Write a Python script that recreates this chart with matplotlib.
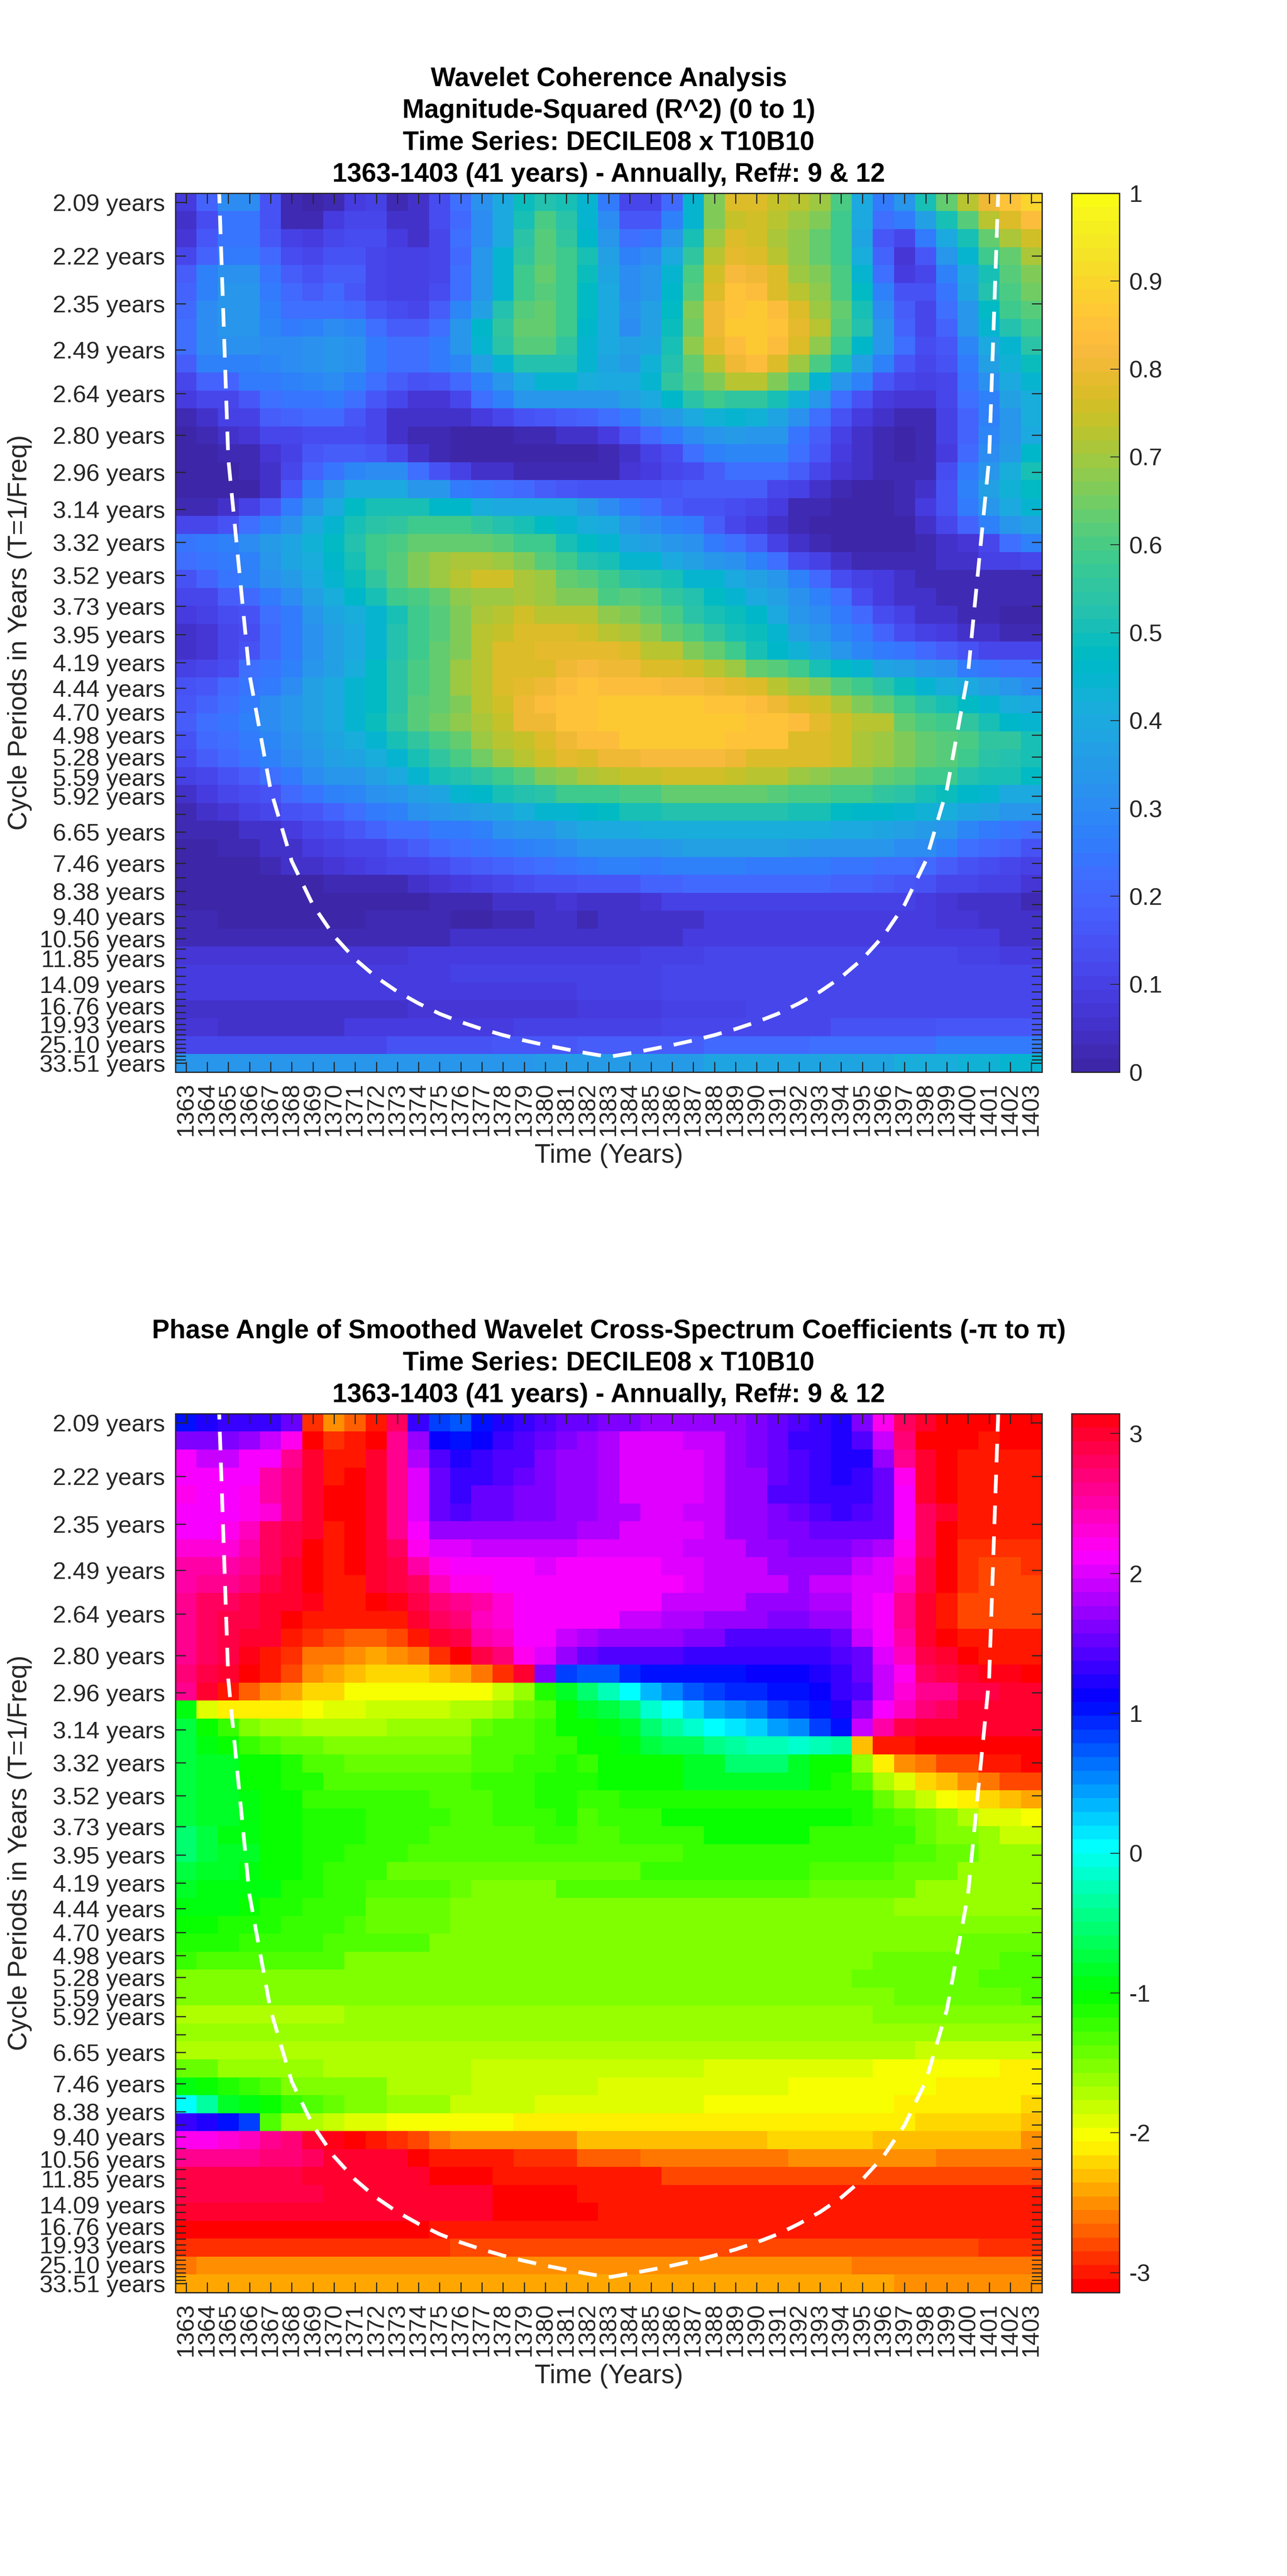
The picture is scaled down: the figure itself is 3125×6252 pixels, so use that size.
import numpy as np
import colorsys
import matplotlib
matplotlib.use("Agg")
import matplotlib.pyplot as plt
from matplotlib.colors import ListedColormap

plt.rcParams['font.family'] = ['Liberation Sans', 'DejaVu Sans']

# x axis
years = list(range(1363, 1404))

# every scale on the y axis, top to bottom
periods = [2.09, 2.22, 2.35, 2.49, 2.64, 2.80, 2.96, 3.14, 3.32, 3.52, 3.73, 3.95, 4.19, 4.44, 4.70, 4.98,
           5.28, 5.59, 5.92, 6.27, 6.65, 7.05, 7.46, 7.91, 8.38, 8.88, 9.40, 9.96, 10.56, 11.19, 11.85,
           12.56, 13.30, 14.09, 14.93, 15.82, 16.76, 17.76, 18.81, 19.93, 21.12, 22.38, 23.71, 25.10,
           26.60, 28.18, 29.85, 31.63, 33.51]
labelled = [2.09, 2.22, 2.35, 2.49, 2.64, 2.80, 2.96, 3.14, 3.32, 3.52, 3.73, 3.95, 4.19, 4.44, 4.70, 4.98,
            5.28, 5.59, 5.92, 6.65, 7.46, 8.38, 9.40, 10.56, 11.85, 14.09, 16.76, 19.93, 25.10, 33.51]

# cone of influence, period in years per year
coi_years = list(range(1364, 1403))
coi_periods = [1.5, 2.9, 4.3, 5.8, 7.4, 8.9, 10.4, 11.9, 13.4, 14.9, 16.4, 18.0, 19.5, 21.0, 22.5, 24.0, 25.5, 27.0, 28.6,
               30.2,
               28.6, 27.0, 25.5, 24.0, 22.5, 21.0, 19.5, 18.0, 16.4, 14.9, 13.4, 11.9, 10.4, 8.9, 7.4, 5.8, 4.3, 2.9, 1.5]

# coherence in percent, one row per scale (top row first), one value per year
coherence = [
    [8,19,30,31,15,3,1,3,8,10, 3,5,14,22,32,40,49,53,51,44, 26,12,11,21,45,66,78,78,74,72, 70,60,40,25,34,51,64,72,81,85, 90],
    [5,14,24,24,15,3,3,8,11,11, 6,6,14,21,31,40,51,60,54,44, 31,16,16,28,45,67,74,75,72,70, 66,59,40,23,25,36,51,62,73,78, 83],
    [7,16,24,24,16,10,8,12,14,14, 8,6,12,22,31,40,54,61,56,46, 34,23,24,34,51,69,77,75,71,68, 64,58,39,16,12,26,40,51,64,71, 75],
    [11,19,26,26,21,14,11,15,15,12, 10,10,12,21,33,45,55,62,58,50, 36,27,30,40,56,72,79,77,72,68, 64,58,41,19,7,16,33,45,59,64, 71],
    [18,27,32,32,24,18,15,18,18,11, 10,10,12,22,34,45,59,64,59,49, 38,30,33,44,60,75,82,80,77,70, 66,60,44,22,8,12,27,40,51,62, 67],
    [19,28,33,33,26,21,18,21,16,11, 10,10,14,22,34,45,59,62,59,48, 40,31,34,46,62,78,85,83,78,73, 68,60,48,28,15,15,24,38,52,60, 65],
    [21,30,34,33,27,23,23,23,21,16, 14,12,18,29,37,53,62,64,59,47, 40,32,36,47,66,80,85,87,83,77, 70,63,51,31,18,11,22,34,47,58, 62],
    [23,31,34,33,29,26,28,30,29,22, 18,18,23,34,46,55,64,64,59,46, 40,31,37,49,65,80,87,87,85,79, 72,62,52,34,19,11,19,34,44,53, 59],
    [22,30,32,32,30,30,32,33,32,26, 22,22,26,34,44,54,62,62,55,45, 40,36,39,51,68,79,84,87,84,77, 68,59,46,34,22,14,16,29,40,45, 54],
    [18,27,27,28,29,31,32,34,32,26, 22,22,25,29,37,45,52,53,52,45, 38,35,43,53,64,73,80,83,78,70, 60,51,37,28,16,12,15,26,37,43, 49],
    [12,19,19,25,25,28,29,31,28,22, 18,15,16,21,28,34,40,44,44,41, 40,40,44,55,61,67,73,73,66,60, 45,34,27,16,11,10,12,24,32,40, 45],
    [8,12,12,16,22,24,24,25,22,16, 11,7,7,11,22,28,33,34,34,34, 34,36,40,46,54,58,56,56,51,43, 34,23,15,8,7,7,11,23,28,36, 41],
    [3,6,10,10,18,19,21,21,16,12, 6,5,5,5,8,12,15,16,18,19, 22,26,32,35,40,43,45,43,39,32, 22,15,8,5,2,3,10,19,27,34, 41],
    [1,3,5,7,11,12,14,14,14,11, 5,3,2,1,1,1,3,3,5,6, 8,15,21,26,31,34,35,34,34,24, 18,10,6,2,1,2,10,19,29,33, 40],
    [0,1,2,3,7,10,16,18,18,16, 12,6,3,1,1,0,0,0,0,1, 2,6,10,14,22,27,29,29,29,23, 16,8,5,2,1,3,8,21,30,35, 46],
    [0,0,0,2,6,11,19,24,29,30, 30,22,15,10,6,5,2,2,2,2, 3,7,8,12,14,18,22,23,23,18, 11,7,5,3,2,3,14,26,34,41, 51],
    [0,0,0,1,6,16,27,34,40,40, 40,34,34,26,24,23,21,18,16,15, 15,15,15,16,18,18,18,18,12,10, 6,2,1,1,2,6,15,27,37,43, 48],
    [3,3,5,10,16,25,34,40,47,50, 50,50,46,46,41,40,40,40,40,35, 30,26,22,18,15,15,14,11,8,3, 2,1,0,1,3,8,15,26,34,40, 44],
    [12,12,15,23,27,32,40,45,51,54, 56,59,59,59,56,53,51,48,44,41, 40,34,31,27,25,18,12,8,5,3, 0,0,0,1,1,5,12,19,27,34, 37],
    [24,26,27,30,35,38,43,47,53,58, 60,63,63,64,63,62,59,58,51,48, 44,38,36,34,32,26,23,18,10,5, 2,0,0,0,0,2,5,7,12,22, 27],
    [22,24,25,27,34,38,41,46,51,59, 62,66,69,71,71,69,66,62,59,53, 50,45,44,40,37,34,32,27,23,14, 10,5,3,3,2,3,5,6,10,10, 12],
    [15,19,24,27,32,35,40,44,49,55, 62,66,69,73,75,75,71,69,64,62, 58,54,53,50,45,44,40,36,34,27, 21,14,10,8,6,3,3,3,3,3, 3],
    [11,12,18,21,26,31,37,41,46,51, 58,60,64,68,70,70,71,69,67,67, 60,62,60,55,53,48,45,40,37,32, 27,22,14,8,6,6,3,2,2,2, 2],
    [8,10,14,15,22,26,33,39,41,45, 51,59,62,66,71,73,75,73,73,72, 68,66,64,60,54,51,49,46,40,34, 31,26,21,14,10,6,6,3,3,1, 1],
    [6,7,11,14,21,25,32,37,40,45, 53,59,62,66,72,74,77,77,77,75, 73,71,68,63,60,56,51,49,44,37, 34,29,25,19,14,10,8,6,5,3, 3],
    [6,7,11,15,21,26,32,37,40,45, 53,59,64,66,72,77,78,79,79,79, 79,77,73,72,67,63,58,51,46,43, 38,33,29,26,24,21,18,15,11,11, 11],
    [10,11,14,22,24,27,34,37,41,47, 54,60,64,69,72,77,78,78,81,82, 81,80,78,78,75,73,69,64,62,58, 51,47,45,39,36,34,32,26,24,23, 22],
    [15,16,21,24,26,30,36,40,44,48, 54,60,63,69,72,77,79,81,84,85, 84,84,84,82,82,81,79,78,73,69, 66,62,58,54,49,44,41,40,37,33, 30],
    [16,19,23,26,30,33,37,40,44,48, 54,62,64,67,73,75,80,83,85,85, 87,87,87,87,87,85,85,83,81,78, 75,71,66,63,59,54,51,48,45,41, 40],
    [18,22,24,27,30,34,37,40,44,49, 56,61,65,68,71,74,80,81,85,85, 87,87,87,87,87,87,87,85,85,83, 79,75,72,72,63,60,59,55,51,46, 45],
    [15,21,22,25,29,32,35,39,41,45, 51,56,60,64,69,72,74,78,80,83, 84,86,86,86,86,86,85,85,85,78, 78,75,71,69,67,64,62,60,56,55, 51],
    [14,18,21,24,28,31,34,36,39,41, 44,51,56,60,65,69,72,75,79,78, 81,81,82,82,82,82,80,77,78,77, 77,75,71,70,66,64,62,58,54,53, 51],
    [10,12,15,18,23,25,30,33,34,37, 40,44,50,53,56,59,62,66,68,71, 73,74,74,75,75,75,74,73,72,70, 68,67,66,64,62,59,59,53,51,50, 48],
    [6,8,11,14,15,21,24,27,29,32, 34,36,39,45,46,51,53,54,58,59, 59,60,60,64,64,64,64,64,61,60, 60,59,59,56,54,51,49,46,45,40, 40],
    [3,6,7,10,12,15,16,19,23,26, 28,32,34,35,37,39,41,44,45,46, 47,51,51,52,52,52,52,52,52,50, 50,47,46,46,45,43,41,38,37,34, 33],
    [2,2,3,5,6,8,12,14,16,19, 22,23,25,26,28,32,33,34,36,40, 40,40,41,42,42,42,42,41,41,41, 41,40,40,39,37,35,33,29,26,24, 23],
    [0,0,2,2,5,6,8,10,11,12, 15,18,21,23,24,25,27,29,31,34, 34,34,34,35,36,36,36,36,36,35, 34,34,34,33,31,30,27,23,21,19, 15],
    [0,0,1,1,3,5,6,7,8,10, 11,12,14,16,18,19,21,23,24,26, 27,27,26,27,27,28,27,26,26,25, 25,24,24,23,22,21,18,15,14,12, 10],
    [0,0,0,0,0,0,1,2,3,3, 3,6,7,8,10,11,14,15,15,16, 16,16,19,19,21,21,21,21,21,21, 21,19,19,18,16,15,12,12,10,10, 7],
    [0,0,0,0,0,0,0,0,0,0, 1,1,2,2,3,5,6,6,7,6, 6,6,7,10,10,10,10,10,10,10, 10,10,10,10,10,8,7,6,6,5, 3],
    [2,2,0,0,0,0,0,0,0,2, 2,2,2,1,1,3,3,6,6,3, 5,5,6,6,6,8,8,8,8,8, 8,8,8,8,8,8,7,7,6,5, 5],
    [3,3,3,3,3,3,3,3,3,3, 3,3,3,6,6,6,6,6,6,5, 6,6,6,6,8,8,8,8,8,8, 8,8,8,8,8,8,8,8,8,6, 6],
    [7,7,7,7,7,7,7,7,7,7, 7,8,8,8,8,8,8,8,8,8, 8,8,10,10,10,11,11,11,11,11, 11,11,11,11,11,11,11,10,10,8, 8],
    [8,8,8,8,8,8,8,8,8,8, 8,8,8,10,10,10,10,10,10,10, 10,10,10,11,11,11,11,11,11,11, 11,11,11,11,11,11,11,11,11,11, 11],
    [8,8,8,8,8,8,8,8,8,8, 8,8,8,8,8,8,8,8,8,10, 10,10,10,11,11,11,11,11,11,11, 11,11,11,11,12,12,12,12,12,12, 12],
    [6,6,6,6,6,6,6,6,6,6, 6,7,7,7,7,7,7,7,7,8, 8,8,8,10,10,10,10,12,12,12, 12,12,12,12,12,12,12,12,12,12, 12],
    [7,7,6,6,6,6,6,6,8,8, 8,8,8,8,8,8,10,10,10,10, 10,10,10,12,12,12,12,12,12,12, 12,15,15,15,15,15,16,16,16,16, 16],
    [12,12,12,12,12,12,12,12,12,12, 15,15,15,15,15,16,16,16,16,18, 18,18,18,18,18,21,21,21,21,21, 23,23,23,23,23,23,25,25,25,25, 25],
    [33,33,33,33,33,33,33,33,34,34, 34,34,34,34,34,34,34,35,35,35, 35,35,35,35,35,38,38,38,38,38, 38,38,38,38,41,41,41,43,43,44, 44],
]

# phase angle in radians, same layout
phase = [
    [1.05,1.25,1.35,1.35,1.35,1.5,-2.85,-2.55,-2.7,-3.0, 2.75,1.35,0.85,0.75,1.05,1.2,1.3,1.4,1.5,1.5, 1.6,1.6,1.75,1.75,1.75,1.75,1.75,1.6,1.5,1.4, 1.35,1.25,1.6,2.2,2.75,2.95,-3.1,-3.1,-3.1,-3.1, -3.1],
    [1.65,1.65,1.65,1.75,1.9,2.2,-3.1,-2.85,-2.95,-3.1, 2.6,1.75,1.15,1.05,1.15,1.3,1.4,1.5,1.65,1.75, 1.85,2.0,2.0,2.0,1.9,1.9,1.75,1.6,1.5,1.35, 1.35,1.2,1.45,1.95,2.7,-3.1,-3.1,-3.1,-3.0,-3.1, -3.1],
    [2.1,1.95,1.95,2.1,2.1,2.6,3.0,-3.0,-3.0,2.95, 2.6,1.85,1.4,1.2,1.3,1.4,1.45,1.6,1.7,1.75, 1.85,2.0,2.0,2.0,2.0,1.9,1.75,1.65,1.5,1.4, 1.3,1.2,1.25,1.75,2.6,3.0,-3.1,-3.0,-3.0,-3.0, -3.0],
    [2.15,2.1,2.1,2.15,2.5,2.7,3.0,-3.0,-3.1,2.95, 2.6,2.05,1.5,1.35,1.35,1.45,1.55,1.6,1.7,1.75, 1.85,2.0,2.0,2.0,2.0,1.9,1.75,1.75,1.5,1.4, 1.3,1.2,1.3,1.55,2.2,2.95,-3.1,-3.0,-3.0,-3.0, -3.0],
    [2.2,2.1,2.1,2.2,2.55,2.7,3.0,-3.1,-3.1,2.95, 2.6,2.05,1.55,1.35,1.5,1.5,1.6,1.6,1.7,1.75, 1.85,2.0,2.0,2.0,2.0,1.9,1.75,1.75,1.45,1.4, 1.3,1.3,1.3,1.55,2.1,2.95,-3.1,-3.0,-3.0,-3.0, -3.0],
    [2.1,2.1,2.1,2.2,2.3,2.7,3.0,-3.1,-3.1,2.95, 2.6,2.05,1.55,1.45,1.5,1.5,1.6,1.6,1.7,1.75, 1.85,1.85,2.0,2.0,1.9,1.9,1.75,1.75,1.65,1.55, 1.4,1.3,1.4,1.5,2.1,2.8,3.0,-3.0,-3.0,-3.0, -3.0],
    [2.15,2.15,2.2,2.4,2.75,2.85,3.0,-3.0,-3.1,2.95, 2.6,2.1,1.75,1.75,1.75,1.75,1.75,1.75,1.75,1.85, 1.85,2.0,2.0,2.0,2.0,1.9,1.75,1.75,1.65,1.65, 1.5,1.5,1.5,1.55,2.1,2.8,-3.1,-3.0,-3.0,-3.0, -3.0],
    [2.3,2.3,2.35,2.5,2.8,2.9,-3.1,-3.0,-3.1,2.95, 2.75,2.25,2.0,2.0,1.9,1.9,1.9,1.9,1.9,2.0, 2.0,2.0,2.0,2.0,1.9,1.9,1.9,1.75,1.75,1.6, 1.6,1.6,1.75,1.85,2.2,2.8,-3.1,-2.9,-2.9,-2.9, -2.9],
    [2.55,2.55,2.55,2.65,2.8,2.95,-3.1,-3.0,-3.1,3.0, 2.85,2.55,2.25,2.1,2.1,2.1,2.1,2.05,2.1,2.1, 2.1,2.1,2.1,2.0,2.0,1.9,1.9,1.9,1.75,1.75, 1.75,1.75,1.9,2.0,2.3,2.85,-3.1,-2.9,-2.8,-2.8, -2.9],
    [2.5,2.6,2.6,2.7,2.85,3.0,-3.1,-3.0,-3.0,3.0, 2.9,2.75,2.45,2.25,2.2,2.1,2.1,2.1,2.1,2.15, 2.15,2.15,2.1,2.1,2.0,1.95,1.95,1.95,1.95,1.75, 1.9,1.9,2.0,2.05,2.4,2.85,-3.1,-2.9,-2.8,-2.8, -2.8],
    [2.65,2.75,2.75,2.85,2.95,3.0,3.05,-3.0,-3.0,-3.1, 3.05,2.85,2.7,2.6,2.5,2.35,2.15,2.15,2.15,2.15, 2.15,2.1,2.1,1.95,1.95,1.9,1.9,1.75,1.75,1.75, 1.85,1.85,2.05,2.15,2.6,2.95,-3.0,-2.8,-2.8,-2.8, -2.8],
    [2.65,2.75,2.85,2.9,3.0,-3.1,-3.0,-2.95,-2.95,-2.95, -3.0,3.0,2.8,2.7,2.4,2.3,2.15,2.15,2.15,2.15, 2.15,1.95,1.95,1.85,1.85,1.7,1.7,1.7,1.6,1.6, 1.7,1.7,2.0,2.15,2.6,3.0,-3.0,-2.8,-2.8,-2.8, -2.8],
    [2.65,2.8,2.85,2.95,3.0,-3.0,-2.9,-2.8,-2.7,-2.7, -2.8,-3.0,3.0,2.85,2.55,2.4,2.15,2.15,1.95,1.85, 1.75,1.75,1.75,1.75,1.6,1.6,1.45,1.45,1.45,1.45, 1.45,1.55,1.9,2.1,2.5,3.0,-3.1,-2.95,-2.95,-2.95, -2.95],
    [2.65,2.75,2.9,3.05,-3.0,-2.9,-2.65,-2.6,-2.5,-2.45, -2.5,-2.65,-2.85,-3.1,2.85,2.7,2.25,2.0,1.75,1.5, 1.4,1.4,1.4,1.4,1.3,1.3,1.3,1.3,1.3,1.3, 1.3,1.4,1.55,2.0,2.4,2.9,3.0,-3.1,-3.0,-3.0, -3.0],
    [2.7,2.9,3.0,-3.1,-2.95,-2.75,-2.5,-2.45,-2.35,-2.25, -2.25,-2.25,-2.35,-2.45,-2.65,-2.85,3.0,1.6,0.85,0.75, 0.75,0.95,1.05,1.05,1.05,1.05,1.05,1.15,1.15,1.15, 1.2,1.35,1.55,1.9,2.2,2.75,2.85,3.0,3.05,3.05, -3.1],
    [2.65,3.0,-3.0,-2.7,-2.55,-2.45,-2.25,-2.2,-2.05,-2.05, -2.0,-2.0,-2.0,-2.0,-2.0,-1.8,-1.65,-1.15,-0.85,-0.55, -0.25,0.05,0.3,0.5,0.7,0.8,0.95,0.95,1.05,1.05, 1.15,1.3,1.45,1.95,2.3,2.6,2.65,2.9,2.9,3.0, 3.0],
    [-0.95,-1.9,-2.09,-2.09,-2.09,-2.09,-2.0,-1.9,-1.9,-1.8, -1.8,-1.8,-1.8,-1.75,-1.75,-1.65,-1.4,-1.3,-1.05,-0.85, -0.7,-0.5,-0.15,0.0,0.2,0.4,0.5,0.65,0.8,0.9, 1.05,1.25,1.6,2.1,2.4,2.7,2.75,2.95,2.95,2.95, 3.0],
    [-0.75,-1.05,-1.25,-1.55,-1.6,-1.6,-1.75,-1.75,-1.75,-1.75, -1.6,-1.6,-1.6,-1.6,-1.4,-1.35,-1.35,-1.25,-1.05,-1.05, -0.95,-0.85,-0.55,-0.35,-0.1,0.0,0.1,0.25,0.4,0.55, 0.8,1.05,1.9,2.5,2.85,2.95,2.95,3.0,3.0,3.0, 3.0],
    [-0.75,-0.95,-1.05,-1.2,-1.35,-1.4,-1.4,-1.55,-1.55,-1.55, -1.55,-1.55,-1.55,-1.55,-1.35,-1.35,-1.35,-1.2,-1.2,-1.05, -1.05,-0.95,-0.75,-0.6,-0.6,-0.45,-0.3,-0.2,-0.2,-0.15, -0.2,-0.35,-2.35,-2.95,-3.0,-3.1,-3.1,-3.1,-3.1,-3.1, -3.1],
    [-0.7,-0.85,-0.85,-1.05,-1.05,-1.15,-1.35,-1.35,-1.45,-1.45, -1.45,-1.45,-1.45,-1.45,-1.35,-1.35,-1.2,-1.2,-1.15,-1.2, -1.05,-1.05,-1.05,-1.0,-0.8,-0.8,-0.55,-0.55,-0.55,-0.8, -1.05,-1.05,-1.65,-2.09,-2.5,-2.65,-2.8,-2.8,-2.95,-2.95, -3.05],
    [-0.7,-0.8,-0.8,-1.0,-1.05,-1.1,-1.1,-1.3,-1.3,-1.3, -1.3,-1.3,-1.3,-1.3,-1.25,-1.25,-1.2,-1.15,-1.1,-1.15, -1.05,-1.05,-1.05,-1.05,-0.85,-0.85,-0.85,-0.85,-0.85,-0.85, -1.05,-1.15,-1.3,-1.75,-1.9,-2.2,-2.35,-2.5,-2.65,-2.75, -2.75],
    [-0.7,-0.8,-0.85,-0.95,-1.05,-1.05,-1.2,-1.2,-1.25,-1.25, -1.25,-1.25,-1.3,-1.3,-1.3,-1.2,-1.2,-1.15,-1.15,-1.25, -1.25,-1.08,-1.08,-1.08,-1.08,-1.08,-1.08,-1.08,-1.08,-1.08, -1.08,-1.08,-1.15,-1.4,-1.6,-1.8,-2.0,-2.09,-2.25,-2.35, -2.45],
    [-0.7,-0.8,-0.85,-0.95,-1.05,-1.05,-1.15,-1.15,-1.15,-1.25, -1.25,-1.25,-1.2,-1.3,-1.3,-1.2,-1.2,-1.2,-1.15,-1.3, -1.2,-1.2,-1.2,-1.07,-1.07,-1.07,-1.07,-1.07,-1.07,-1.07, -1.07,-1.07,-1.15,-1.2,-1.35,-1.45,-1.55,-1.75,-1.9,-1.9, -2.0],
    [-0.55,-0.75,-0.9,-0.9,-1.05,-1.05,-1.1,-1.15,-1.15,-1.25, -1.25,-1.25,-1.35,-1.35,-1.35,-1.35,-1.35,-1.25,-1.25,-1.3, -1.3,-1.2,-1.2,-1.2,-1.2,-1.07,-1.07,-1.07,-1.07,-1.07, -1.2,-1.2,-1.2,-1.25,-1.25,-1.4,-1.55,-1.55,-1.6,-1.8, -1.8],
    [-0.55,-0.7,-0.85,-0.85,-1.0,-1.0,-1.15,-1.15,-1.25,-1.25, -1.25,-1.35,-1.35,-1.35,-1.35,-1.35,-1.35,-1.35,-1.35,-1.3, -1.3,-1.3,-1.3,-1.3,-1.2,-1.2,-1.2,-1.2,-1.2,-1.2, -1.2,-1.25,-1.25,-1.25,-1.3,-1.3,-1.45,-1.45,-1.6,-1.6, -1.6],
    [-0.75,-0.85,-0.85,-0.9,-1.0,-1.0,-1.15,-1.2,-1.25,-1.25, -1.4,-1.4,-1.4,-1.4,-1.4,-1.4,-1.4,-1.4,-1.4,-1.4, -1.4,-1.4,-1.25,-1.25,-1.25,-1.25,-1.25,-1.25,-1.25,-1.25, -1.3,-1.3,-1.3,-1.3,-1.45,-1.45,-1.45,-1.6,-1.6,-1.6, -1.6],
    [-0.85,-0.9,-0.9,-0.95,-0.95,-1.15,-1.15,-1.2,-1.2,-1.35, -1.35,-1.35,-1.35,-1.45,-1.55,-1.55,-1.55,-1.55,-1.35,-1.35, -1.35,-1.35,-1.35,-1.35,-1.35,-1.35,-1.35,-1.35,-1.35,-1.35, -1.45,-1.45,-1.45,-1.45,-1.45,-1.6,-1.6,-1.6,-1.6,-1.6, -1.6],
    [-0.95,-0.95,-0.95,-1.0,-1.15,-1.15,-1.2,-1.2,-1.2,-1.45, -1.45,-1.45,-1.45,-1.55,-1.55,-1.55,-1.55,-1.55,-1.55,-1.5, -1.5,-1.5,-1.5,-1.5,-1.5,-1.5,-1.5,-1.5,-1.5,-1.5, -1.5,-1.5,-1.5,-1.5,-1.6,-1.6,-1.6,-1.6,-1.6,-1.6, -1.6],
    [-1.0,-1.0,-1.1,-1.1,-1.1,-1.25,-1.25,-1.25,-1.35,-1.45, -1.45,-1.45,-1.45,-1.55,-1.55,-1.55,-1.55,-1.55,-1.55,-1.5, -1.5,-1.5,-1.5,-1.5,-1.5,-1.5,-1.5,-1.5,-1.5,-1.5, -1.5,-1.5,-1.5,-1.5,-1.5,-1.5,-1.5,-1.5,-1.5,-1.5, -1.5],
    [-1.15,-1.15,-1.15,-1.25,-1.25,-1.25,-1.25,-1.35,-1.35,-1.35, -1.35,-1.35,-1.5,-1.5,-1.5,-1.5,-1.5,-1.5,-1.5,-1.5, -1.5,-1.5,-1.5,-1.5,-1.5,-1.5,-1.5,-1.5,-1.5,-1.5, -1.5,-1.5,-1.5,-1.5,-1.5,-1.5,-1.5,-1.4,-1.4,-1.4, -1.4],
    [-1.2,-1.3,-1.3,-1.3,-1.3,-1.3,-1.3,-1.3,-1.5,-1.5, -1.5,-1.5,-1.5,-1.5,-1.5,-1.5,-1.5,-1.5,-1.5,-1.5, -1.5,-1.5,-1.5,-1.5,-1.5,-1.5,-1.5,-1.5,-1.5,-1.5, -1.5,-1.5,-1.5,-1.4,-1.4,-1.4,-1.4,-1.4,-1.4,-1.3, -1.3],
    [-1.5,-1.5,-1.5,-1.5,-1.5,-1.5,-1.5,-1.5,-1.5,-1.5, -1.5,-1.5,-1.5,-1.5,-1.5,-1.5,-1.5,-1.5,-1.5,-1.5, -1.5,-1.5,-1.5,-1.5,-1.5,-1.5,-1.5,-1.5,-1.5,-1.5, -1.5,-1.5,-1.4,-1.4,-1.4,-1.4,-1.4,-1.4,-1.35,-1.35, -1.3],
    [-1.55,-1.55,-1.55,-1.55,-1.55,-1.55,-1.55,-1.55,-1.55,-1.55, -1.55,-1.55,-1.55,-1.55,-1.55,-1.55,-1.55,-1.55,-1.55,-1.55, -1.55,-1.55,-1.55,-1.55,-1.55,-1.5,-1.5,-1.5,-1.5,-1.5, -1.5,-1.5,-1.5,-1.5,-1.4,-1.4,-1.4,-1.4,-1.4,-1.4, -1.3],
    [-1.68,-1.68,-1.68,-1.68,-1.68,-1.68,-1.68,-1.68,-1.6,-1.6, -1.6,-1.6,-1.6,-1.6,-1.6,-1.6,-1.6,-1.6,-1.6,-1.6, -1.6,-1.6,-1.6,-1.6,-1.6,-1.6,-1.6,-1.6,-1.6,-1.6, -1.6,-1.6,-1.6,-1.48,-1.48,-1.48,-1.48,-1.48,-1.48,-1.48, -1.48],
    [-1.65,-1.65,-1.65,-1.65,-1.65,-1.65,-1.65,-1.65,-1.65,-1.65, -1.65,-1.65,-1.65,-1.65,-1.65,-1.65,-1.65,-1.65,-1.65,-1.65, -1.65,-1.65,-1.65,-1.65,-1.65,-1.65,-1.65,-1.65,-1.65,-1.65, -1.65,-1.65,-1.65,-1.65,-1.65,-1.65,-1.65,-1.65,-1.65,-1.65, -1.65],
    [-1.7,-1.7,-1.7,-1.7,-1.7,-1.7,-1.7,-1.7,-1.7,-1.7, -1.7,-1.7,-1.7,-1.7,-1.7,-1.7,-1.7,-1.7,-1.7,-1.7, -1.7,-1.75,-1.75,-1.75,-1.75,-1.75,-1.75,-1.75,-1.75,-1.75, -1.75,-1.75,-1.75,-1.75,-1.75,-1.82,-1.82,-1.82,-1.82,-1.82, -1.82],
    [-1.45,-1.45,-1.6,-1.6,-1.6,-1.6,-1.6,-1.68,-1.68,-1.68, -1.68,-1.68,-1.68,-1.68,-1.8,-1.8,-1.8,-1.8,-1.8,-1.8, -1.8,-1.8,-1.8,-1.8,-1.8,-1.87,-1.87,-1.87,-1.87,-1.87, -1.87,-1.87,-1.87,-2.0,-2.0,-2.0,-2.0,-2.0,-2.0,-2.1, -2.1],
    [-0.9,-1.05,-1.1,-1.2,-1.35,-1.5,-1.5,-1.55,-1.55,-1.55, -1.68,-1.68,-1.68,-1.68,-1.78,-1.78,-1.78,-1.78,-1.78,-1.78, -1.87,-1.87,-1.87,-1.87,-1.87,-1.87,-1.87,-1.87,-1.87,-2.0, -2.0,-2.0,-2.0,-2.0,-2.0,-2.0,-2.1,-2.1,-2.1,-2.1, -2.15],
    [0.0,-0.35,-0.8,-0.95,-1.05,-1.25,-1.3,-1.4,-1.55,-1.55, -1.65,-1.65,-1.65,-1.8,-1.8,-1.8,-1.8,-1.9,-1.9,-1.9, -1.9,-1.9,-1.9,-1.9,-1.9,-2.0,-2.0,-2.0,-2.0,-2.0, -2.0,-2.0,-2.0,-2.0,-2.1,-2.1,-2.1,-2.1,-2.1,-2.1, -2.2],
    [1.35,1.2,1.05,0.85,-1.35,-1.75,-1.75,-1.85,-1.9,-1.9, -2.0,-2.0,-2.0,-2.0,-2.0,-2.0,-2.09,-2.09,-2.09,-2.09, -2.09,-2.09,-2.09,-2.09,-2.09,-2.09,-2.09,-2.09,-2.09,-2.09, -2.09,-2.09,-2.09,-2.09,-2.09,-2.2,-2.2,-2.2,-2.2,-2.2, -2.3],
    [2.25,2.25,2.35,2.4,2.65,2.7,2.95,3.05,-3.05,-2.95, -2.85,-2.75,-2.6,-2.55,-2.55,-2.55,-2.5,-2.5,-2.5,-2.35, -2.35,-2.35,-2.35,-2.35,-2.35,-2.35,-2.35,-2.35,-2.25,-2.25, -2.25,-2.25,-2.25,-2.35,-2.35,-2.35,-2.35,-2.35,-2.35,-2.35, -2.5],
    [2.6,2.6,2.6,2.6,2.7,2.7,2.8,2.95,2.95,3.0, 3.0,-3.1,-3.0,-3.0,-2.95,-2.95,-2.85,-2.85,-2.85,-2.7, -2.7,-2.7,-2.6,-2.6,-2.6,-2.6,-2.6,-2.6,-2.6,-2.55, -2.55,-2.55,-2.55,-2.55,-2.55,-2.55,-2.6,-2.6,-2.6,-2.6, -2.6],
    [2.85,2.85,2.85,2.85,2.85,2.85,2.95,2.95,3.0,3.0, 3.0,3.0,-3.1,-3.1,-3.1,-3.0,-3.0,-3.0,-3.0,-2.95, -2.95,-2.95,-2.95,-2.8,-2.8,-2.8,-2.8,-2.8,-2.8,-2.8, -2.8,-2.8,-2.75,-2.75,-2.75,-2.75,-2.8,-2.8,-2.8,-2.8, -2.8],
    [2.9,2.9,2.9,2.9,2.9,2.9,2.9,2.95,2.95,2.95, 2.95,3.0,3.0,3.0,3.0,-3.1,-3.1,-3.1,-3.1,-3.0, -3.0,-3.0,-3.0,-3.0,-3.0,-2.95,-2.95,-2.95,-2.95,-2.95, -2.95,-2.95,-2.95,-2.95,-2.95,-2.95,-2.95,-2.95,-2.95,-2.95, -2.95],
    [2.95,2.95,2.95,2.95,2.95,2.95,2.95,2.95,2.95,3.0, 3.0,3.0,3.0,3.0,3.0,-3.1,-3.1,-3.1,-3.1,-3.1, -3.0,-3.0,-3.0,-3.0,-3.0,-3.0,-3.0,-3.0,-3.0,-3.0, -2.95,-2.95,-2.95,-2.95,-2.95,-2.95,-2.95,-2.95,-2.95,-2.95, -2.95],
    [-3.1,-3.1,-3.1,-3.1,-3.1,-3.1,-3.1,-3.1,-3.1,-3.1, -3.1,-3.1,-3.0,-3.0,-3.0,-3.0,-3.0,-3.0,-3.0,-2.95, -2.95,-2.95,-2.95,-2.95,-2.95,-2.95,-2.95,-2.95,-2.95,-2.95, -2.95,-2.95,-2.95,-2.95,-2.95,-2.95,-2.95,-2.95,-2.95,-2.95, -2.95],
    [-2.85,-2.85,-2.85,-2.85,-2.85,-2.85,-2.85,-2.85,-2.85,-2.85, -2.85,-2.85,-2.85,-2.75,-2.75,-2.75,-2.75,-2.75,-2.75,-2.75, -2.75,-2.75,-2.75,-2.75,-2.75,-2.75,-2.75,-2.75,-2.75,-2.75, -2.75,-2.75,-2.75,-2.75,-2.75,-2.75,-2.75,-2.75,-2.85,-2.85, -2.85],
    [-2.65,-2.55,-2.55,-2.55,-2.55,-2.55,-2.55,-2.55,-2.55,-2.55, -2.55,-2.55,-2.55,-2.55,-2.55,-2.55,-2.55,-2.55,-2.55,-2.55, -2.55,-2.55,-2.55,-2.55,-2.55,-2.55,-2.55,-2.55,-2.55,-2.55, -2.55,-2.55,-2.65,-2.65,-2.65,-2.65,-2.65,-2.65,-2.65,-2.65, -2.65],
    [-2.45,-2.45,-2.45,-2.45,-2.45,-2.45,-2.45,-2.45,-2.45,-2.45, -2.45,-2.45,-2.45,-2.45,-2.45,-2.45,-2.45,-2.45,-2.45,-2.45, -2.45,-2.45,-2.45,-2.45,-2.45,-2.45,-2.45,-2.45,-2.45,-2.45, -2.45,-2.45,-2.45,-2.45,-2.55,-2.55,-2.55,-2.55,-2.55,-2.55, -2.55],
]

title_top = 'Wavelet Coherence Analysis\nMagnitude-Squared (R^2) (0 to 1)\nTime Series: DECILE08 x T10B10\n1363-1403 (41 years) - Annually, Ref#: 9 & 12'
title_bot = 'Phase Angle of Smoothed Wavelet Cross-Spectrum Coefficients (-\u03c0 to \u03c0)\nTime Series: DECILE08 x T10B10\n1363-1403 (41 years) - Annually, Ref#: 9 & 12'

# MATLAB parula, 64 levels
parula = ListedColormap([
    (.2422,.1504,.6603),(.2504,.1650,.7076),(.2578,.1818,.7511),(.2647,.1978,.7952),(.2706,.2147,.8364),(.2751,.2342,.8710),
    (.2783,.2559,.8991),(.2803,.2782,.9221),(.2813,.3006,.9414),(.2810,.3228,.9579),(.2795,.3447,.9717),(.2760,.3667,.9829),
    (.2699,.3892,.9906),(.2602,.4123,.9952),(.2440,.4358,.9988),(.2206,.4603,.9973),(.1963,.4847,.9892),(.1834,.5074,.9798),
    (.1786,.5289,.9682),(.1764,.5499,.9520),(.1687,.5703,.9359),(.1540,.5902,.9218),(.1460,.6091,.9079),(.1380,.6276,.8973),
    (.1248,.6459,.8883),(.1113,.6635,.8763),(.0952,.6798,.8598),(.0689,.6948,.8394),(.0297,.7082,.8163),(.0036,.7197,.7917),
    (.0067,.7312,.7660),(.0433,.7411,.7394),(.0964,.7500,.7120),(.1408,.7584,.6842),(.1717,.7670,.6554),(.1938,.7758,.6251),
    (.2161,.7843,.5923),(.2470,.7918,.5567),(.2906,.7973,.5188),(.3406,.8008,.4789),(.3909,.8029,.4354),(.4456,.8024,.3909),
    (.5044,.7993,.3480),(.5616,.7942,.3045),(.6174,.7876,.2612),(.6720,.7793,.2227),(.7242,.7698,.1910),(.7738,.7598,.1646),
    (.8203,.7498,.1535),(.8634,.7406,.1596),(.9035,.7330,.1774),(.9393,.7288,.2100),(.9728,.7298,.2394),(.9956,.7434,.2371),
    (.9970,.7659,.2199),(.9952,.7893,.2028),(.9892,.8136,.1885),(.9786,.8386,.1766),(.9676,.8639,.1643),(.9610,.8890,.1537),
    (.9597,.9135,.1423),(.9628,.9373,.1265),(.9691,.9606,.1064),(.9769,.9839,.0805)])
# MATLAB hsv, 64 levels
hsv64 = ListedColormap([colorsys.hsv_to_rgb(i / 64, 1, 1) for i in range(64)])

W, H = 3125, 6252
grey = '#262626'
freqs = [1 / p for p in periods]
df = (freqs[0] - freqs[-1]) / (len(freqs) - 1)
extent = [years[0] - .5, years[-1] + .5, freqs[-1] - df / 2, freqs[0] + df / 2]


def panel(top, bottom, values, cmap, vmin, vmax, title, cticks):
    ax = fig.add_axes([426 / W, 1 - bottom / H, 2104 / W, (bottom - top) / H])
    im = ax.imshow(values, cmap=cmap, vmin=vmin, vmax=vmax, extent=extent, aspect='auto', interpolation='nearest')
    ax.plot(coi_years, [1 / p for p in coi_periods], color='w', lw=6.5, dashes=(5, 3.3), dash_capstyle='butt')
    ax.set_xlim(extent[0], extent[1])
    ax.set_ylim(extent[2], extent[3])

    ax.set_xticks(years)
    ax.set_xticklabels(years, rotation=90)
    ax.set_yticks(freqs)
    ax.set_yticklabels(['%.2f years' % p if p in labelled else '' for p in periods])
    ax.tick_params(axis='both', direction='in', top=True, right=True, length=18, width=2,
                   labelsize=42, pad=18, color=grey, labelcolor=grey)
    for s in ax.spines.values():
        s.set_linewidth(2.2)
        s.set_color(grey)

    ax.set_title(title, fontsize=46, fontweight='bold', linespacing=1.37, pad=20)
    ax.set_xlabel('Time (Years)', fontsize=46, color=grey)
    ax.xaxis.set_label_coords(.5, -203 / (bottom - top), transform=ax.transAxes)
    ax.xaxis.label.set_va('center')
    ax.set_ylabel('Cycle Periods in Years (T=1/Freq)', fontsize=46, color=grey)
    ax.yaxis.set_label_coords(-378 / 2104, .5, transform=ax.transAxes)
    ax.yaxis.label.set_va('center')

    cax = fig.add_axes([2602 / W, 1 - bottom / H, 116 / W, (bottom - top) / H])
    cb = fig.colorbar(im, cax=cax, ticks=cticks, format='%g')
    cb.ax.tick_params(direction='in', length=16, width=1.5, labelsize=42, pad=17, color=grey, labelcolor=grey)
    cb.outline.set_linewidth(2.2)
    cb.outline.set_edgecolor(grey)
    return ax


fig = plt.figure(figsize=(W / 100, H / 100), dpi=100)
panel(469, 2602, np.array(coherence) / 100, parula, 0, 1, title_top,
      [0, .1, .2, .3, .4, .5, .6, .7, .8, .9, 1])
panel(3431, 5564, np.array(phase), hsv64, -np.pi, np.pi, title_bot, [-3, -2, -1, 0, 1, 2, 3])

fig.savefig('out.png', dpi=100, facecolor='w')
